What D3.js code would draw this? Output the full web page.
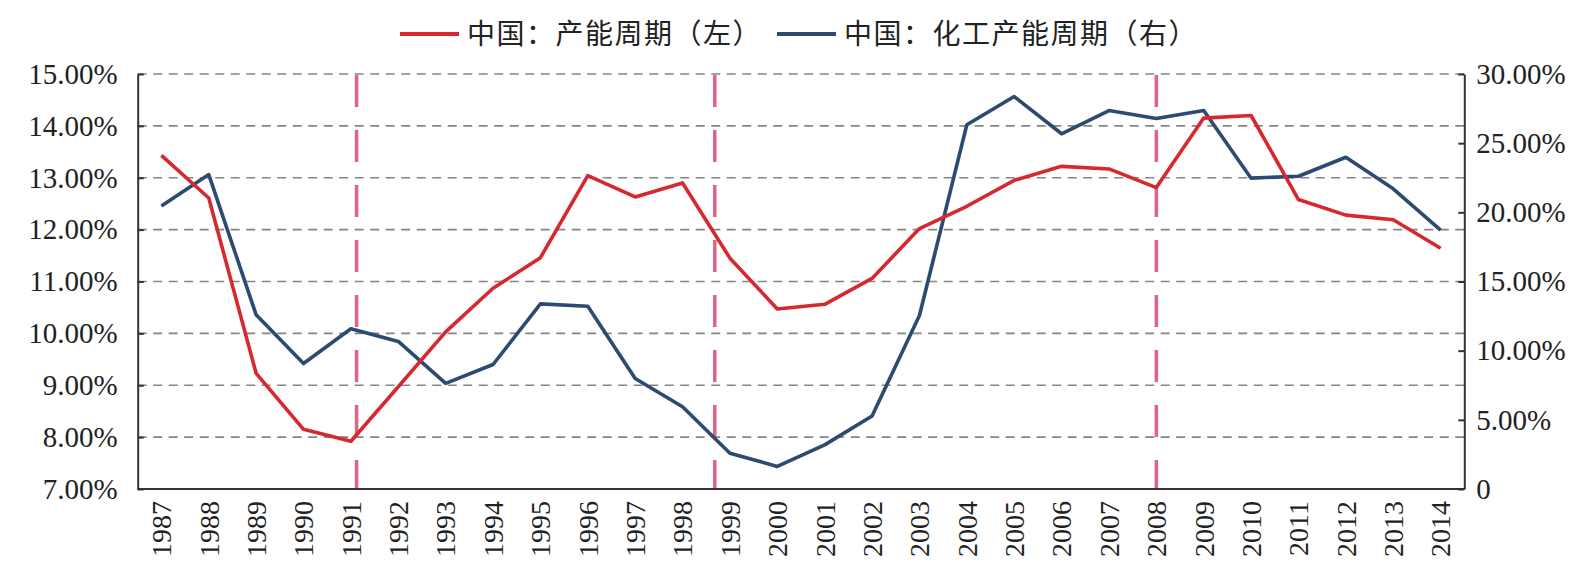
<!DOCTYPE html>
<html>
<head>
<meta charset="utf-8">
<script src="https://cdn.jsdelivr.net/npm/d3@7"></script>
<style>
  body { margin: 0; background: #fff; }
  svg { display: block; }
  .axis text { font-family: "Liberation Serif", "DejaVu Serif", serif; fill: #222; }
  .legend text { font-family: "Noto Sans CJK SC", sans-serif; fill: #222; }
</style>
</head>
<body>
<svg class="chart" width="1586" height="583"></svg>
<script>
// years on the category axis
let years = d3.range(1987, 2015);

// 中国：产能周期（左）, %
let capacityCycle = [13.43, 12.61, 9.23, 8.15, 7.92, 8.97, 10.03, 10.87, 11.46, 13.04,
  12.63, 12.90, 11.45, 10.47, 10.56, 11.06, 12.02, 12.45, 12.95, 13.22,
  13.17, 12.81, 14.15, 14.20, 12.58, 12.28, 12.19, 11.64];

// 中国：化工产能周期（右）, %
let chemCycle = [20.46, 22.73, 12.59, 9.07, 11.58, 10.67, 7.63, 9.00, 13.38, 13.21,
  7.99, 5.95, 2.59, 1.63, 3.19, 5.28, 12.54, 26.33, 28.37, 25.68,
  27.36, 26.79, 27.36, 22.47, 22.61, 23.98, 21.70, 18.71];

// vertical dashed markers (position in years)
let markers = [1991.12, 1998.68, 2008];

let leftTicks = [7, 8, 9, 10, 11, 12, 13, 14, 15];
let rightTicks = [0, 5, 10, 15, 20, 25, 30];

let seriesNames = ['中国：产能周期（左）', '中国：化工产能周期（右）'];
let seriesColors = ['#d7282f', '#2d4a72'];

let plot = {left: 137.7, right: 1464.3, top: 74, bottom: 489};

let x = d3.scaleLinear()
  .domain([years[0] - 0.5, years[years.length - 1] + 0.5])
  .range([plot.left, plot.right]);

let yL = d3.scaleLinear().domain([7, 15]).range([plot.bottom, plot.top]);
let yR = d3.scaleLinear().domain([0, 30]).range([plot.bottom, plot.top]);

let svg = d3.select('svg.chart');

// grid lines
svg.append('g')
  .attr('class', 'grid')
  .selectAll('line')
  .data(leftTicks.slice(1))
  .enter()
  .append('line')
  .attr('x1', plot.left)
  .attr('x2', plot.right)
  .attr('y1', d => yL(d))
  .attr('y2', d => yL(d))
  .style('stroke', '#858585')
  .style('stroke-width', 1.6)
  .style('stroke-dasharray', '9,6.5');

// vertical pink markers
svg.append('g')
  .attr('class', 'markers')
  .selectAll('line')
  .data(markers)
  .enter()
  .append('line')
  .attr('x1', d => x(d))
  .attr('x2', d => x(d))
  .attr('y1', plot.top + 1)
  .attr('y2', plot.bottom)
  .style('stroke', '#de6488')
  .style('stroke-width', 3.5)
  .style('stroke-dasharray', '32,23');

// left axis
svg.append('g')
  .attr('class', 'axis left')
  .attr('transform', `translate(${plot.left},0)`)
  .call(d3.axisLeft(yL)
    .tickValues(leftTicks)
    .tickSizeInner(-6)
    .tickSizeOuter(0)
    .tickPadding(20)
    .tickFormat(d => d3.format('.2f')(d) + '%'));

// right axis
svg.append('g')
  .attr('class', 'axis right')
  .attr('transform', `translate(${plot.right},0)`)
  .call(d3.axisRight(yR)
    .tickValues(rightTicks)
    .tickSizeInner(-6)
    .tickSizeOuter(0)
    .tickPadding(12)
    .tickFormat(d => d === 0 ? '0' : d3.format('.2f')(d) + '%'));

svg.selectAll('.axis text').style('font-size', '29px');
svg.selectAll('.axis path, .axis line')
  .style('stroke', '#333')
  .style('stroke-width', 2);

// bottom axis line
svg.append('line')
  .attr('x1', plot.left)
  .attr('x2', plot.right)
  .attr('y1', plot.bottom)
  .attr('y2', plot.bottom)
  .style('stroke', '#333')
  .style('stroke-width', 2);

// year labels
svg.append('g')
  .attr('class', 'axis bottom')
  .selectAll('text')
  .data(years)
  .enter()
  .append('text')
  .attr('transform', d => `translate(${x(d)},${plot.bottom + 12}) rotate(-90)`)
  .attr('text-anchor', 'end')
  .attr('dy', '0.35em')
  .style('font-size', '28px')
  .text(d => d);

// lines
let lineL = d3.line()
  .x((d, i) => x(years[i]))
  .y(d => yL(d));

let lineR = d3.line()
  .x((d, i) => x(years[i]))
  .y(d => yR(d));

svg.append('path')
  .datum(chemCycle)
  .attr('d', lineR)
  .style('fill', 'none')
  .style('stroke', seriesColors[1])
  .style('stroke-width', 3.6)
  .style('stroke-linejoin', 'round');

svg.append('path')
  .datum(capacityCycle)
  .attr('d', lineL)
  .style('fill', 'none')
  .style('stroke', seriesColors[0])
  .style('stroke-width', 3.6)
  .style('stroke-linejoin', 'round');

// legend
let legendPos = [400, 777];
let legend = svg.append('g').attr('class', 'legend');

let legendItem = legend.selectAll('g')
  .data(seriesNames)
  .enter()
  .append('g')
  .attr('transform', (d, i) => `translate(${legendPos[i]},34)`);

legendItem.append('line')
  .attr('x1', 0)
  .attr('x2', 59)
  .style('stroke', (d, i) => seriesColors[i])
  .style('stroke-width', 4);

legendItem.append('text')
  .attr('x', 67)
  .attr('dy', '0.36em')
  .style('font-size', '28px')
  .style('letter-spacing', '1.5px')
  .text(d => d);
</script>
</body>
</html>
